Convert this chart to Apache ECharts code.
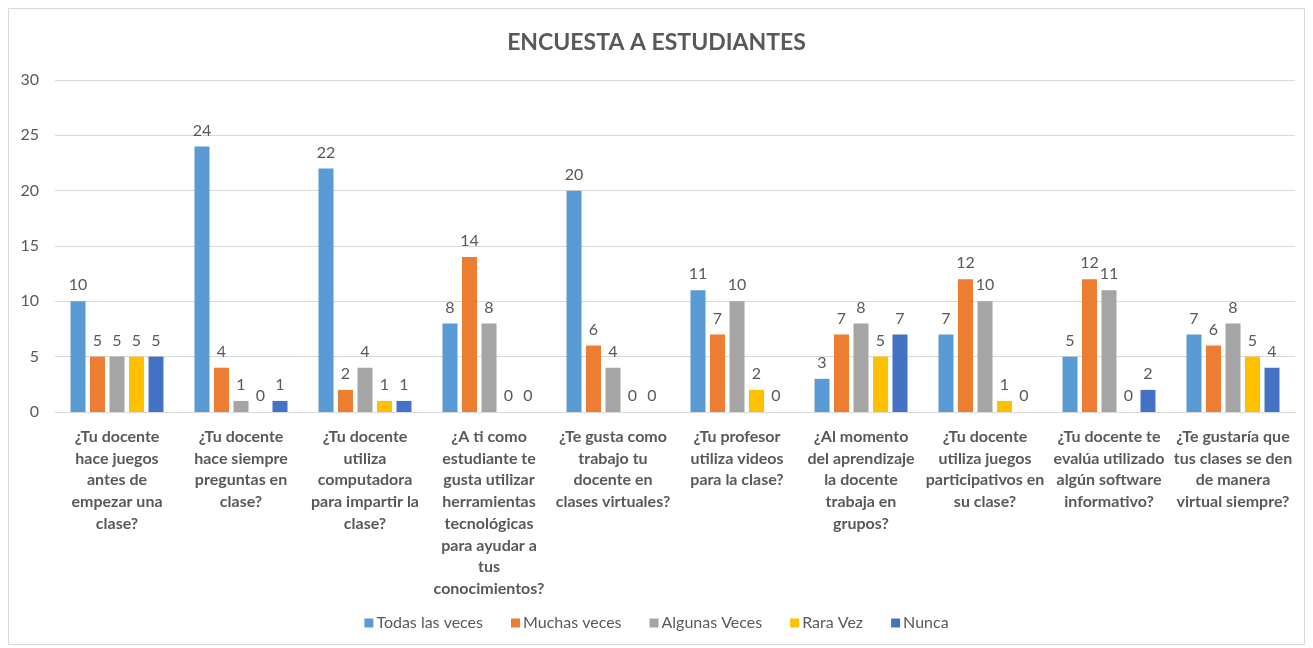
<!DOCTYPE html>
<html><head><meta charset="utf-8">
<script src="https://cdn.jsdelivr.net/npm/echarts@6/dist/echarts.min.js"></script>
<style>html,body{margin:0;padding:0;background:#fff}#c{width:1313px;height:648px}</style>
</head><body><div id="c"></div>
<script>
const categories = [
  "¿Tu docente\nhace juegos\nantes de\nempezar una\nclase?",
  "¿Tu docente\nhace siempre\npreguntas en\nclase?",
  "¿Tu docente\nutiliza\ncomputadora\npara impartir la\nclase?",
  "¿A ti como\nestudiante te\ngusta utilizar\nherramientas\ntecnológicas\npara ayudar a\ntus\nconocimientos?",
  "¿Te gusta como\ntrabajo tu\ndocente en\nclases virtuales?",
  "¿Tu profesor\nutiliza videos\npara la clase?",
  "¿Al momento\ndel aprendizaje\nla docente\ntrabaja en\ngrupos?",
  "¿Tu docente\nutiliza juegos\nparticipativos en\nsu clase?",
  "¿Tu docente te\nevalúa utilizado\nalgún software\ninformativo?",
  "¿Te gustaría que\ntus clases se den\nde manera\nvirtual siempre?"
];
const seriesNames = ["Todas las veces", "Muchas veces", "Algunas Veces", "Rara Vez", "Nunca"];
const todasLasVeces = [10, 24, 22, 8, 20, 11, 3, 7, 5, 7];
const muchasVeces   = [5, 4, 2, 14, 6, 7, 7, 12, 12, 6];
const algunasVeces  = [5, 1, 4, 8, 4, 10, 8, 10, 11, 8];
const raraVez       = [5, 0, 1, 0, 0, 2, 5, 1, 0, 5];
const nunca         = [5, 1, 1, 0, 0, 0, 7, 0, 2, 4];
const yTicks = [0, 5, 10, 15, 20, 25, 30];

const colors = ["#5B9BD5", "#ED7D31", "#A5A5A5", "#FFC000", "#4472C4"];
const values = [todasLasVeces, muchasVeces, algunasVeces, raraVez, nunca];
const FONT = "Lato, 'Liberation Sans', sans-serif";
const TXT = "#595959";

const chart = echarts.init(document.getElementById('c'));
chart.setOption({
  animation: false,
  color: colors,
  textStyle: { fontFamily: FONT },
  graphic: [{
    type: 'rect', silent: true, z: -10,
    shape: { x: 8.5, y: 8.5, width: 1296, height: 636 },
    style: { fill: '#fff', stroke: '#D9D9D9', lineWidth: 1 }
  }],
  title: {
    text: "ENCUESTA A ESTUDIANTES",
    left: 'center', top: 26,
    textStyle: { fontFamily: FONT, fontSize: 23, fontWeight: 'bold', color: TXT }
  },
  legend: {
    data: seriesNames,
    bottom: 12, left: 'center',
    icon: 'rect', itemWidth: 9, itemHeight: 9, itemGap: 28,
    textStyle: { fontFamily: FONT, fontSize: 16, color: TXT, padding: [0, 0, 0, -2] }
  },
  grid: { left: 55, right: 18, top: 80, bottom: 236, containLabel: false },
  xAxis: {
    type: 'category',
    data: categories,
    axisLine: { lineStyle: { color: '#D9D9D9' } },
    axisTick: { show: false },
    axisLabel: {
      interval: 0, margin: 14,
      fontFamily: FONT, fontSize: 16, fontWeight: 'bold', color: TXT,
      lineHeight: 21.7, align: 'center'
    }
  },
  yAxis: {
    type: 'value', min: yTicks[0], max: yTicks[yTicks.length - 1], interval: 5,
    axisLine: { show: false }, axisTick: { show: false },
    splitLine: { lineStyle: { color: '#D9D9D9' } },
    axisLabel: { fontFamily: FONT, fontSize: 16, color: TXT, margin: 16,
      formatter: v => yTicks.includes(v) ? String(v) : '' }
  },
  series: seriesNames.map((name, i) => ({
    name, type: 'bar',
    data: values[i],
    barWidth: 15,
    barGap: '30%',
    itemStyle: { color: colors[i] },
    label: { show: true, position: 'top', distance: 8,
      fontFamily: FONT, fontSize: 16, color: TXT }
  }))
});
</script></body></html>
